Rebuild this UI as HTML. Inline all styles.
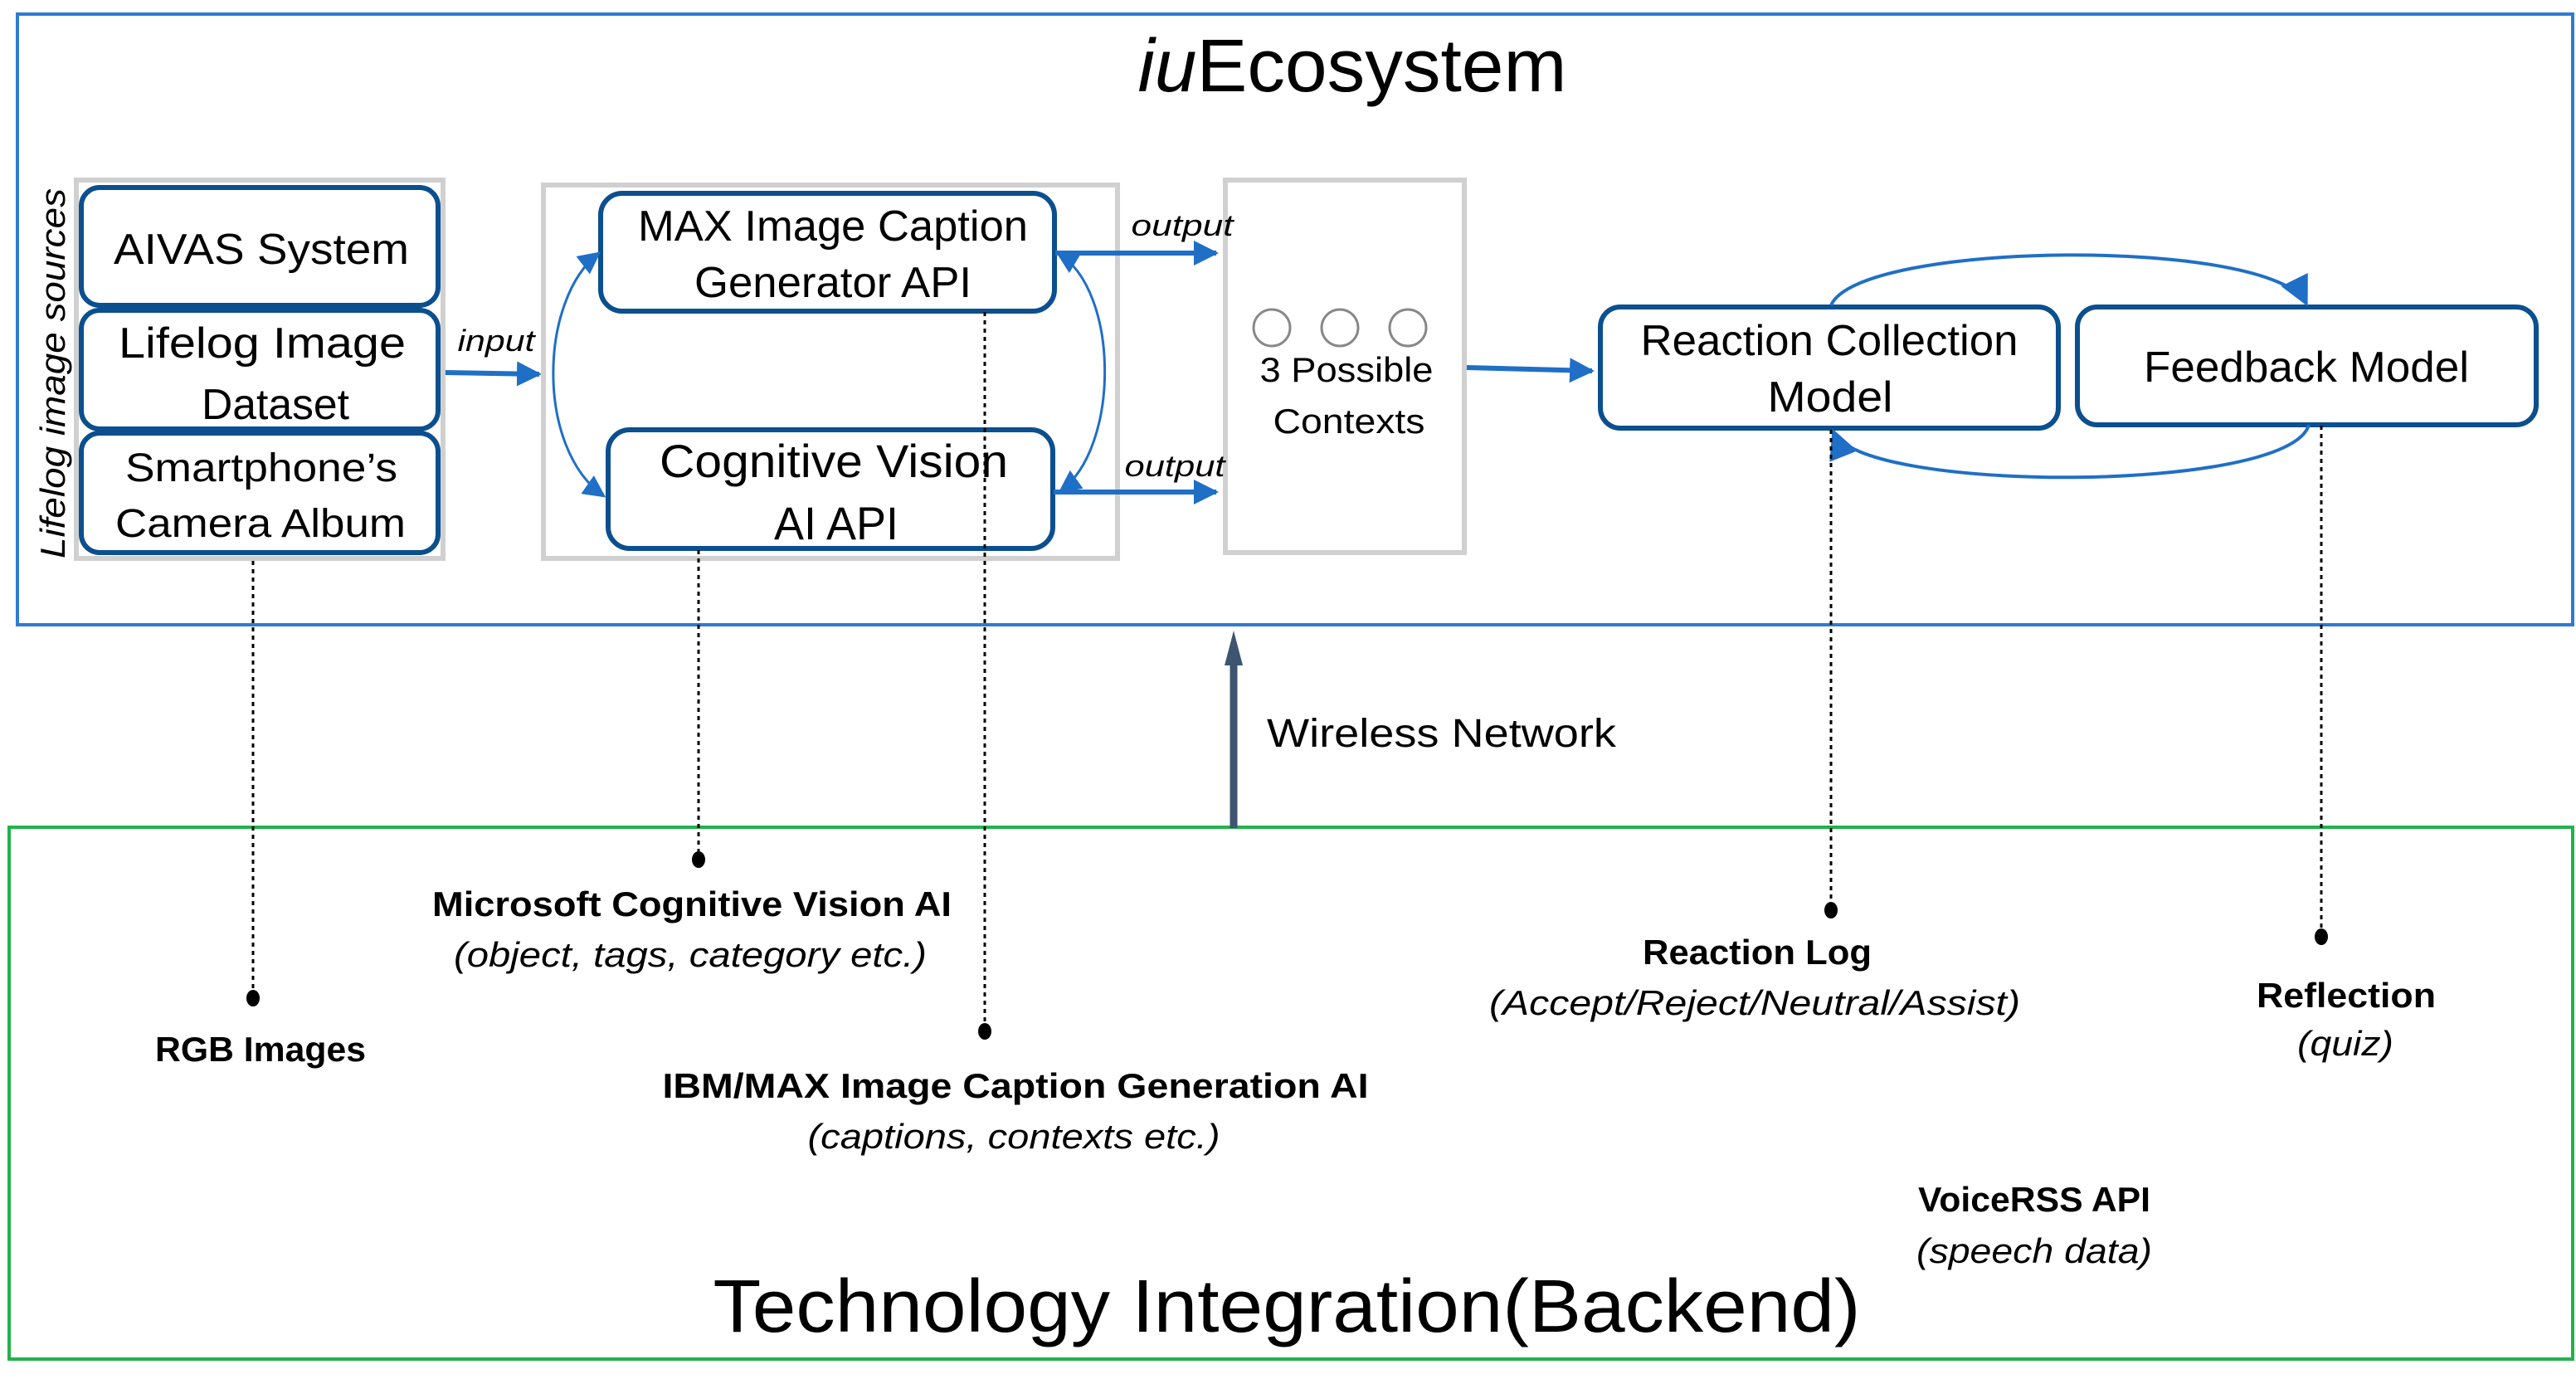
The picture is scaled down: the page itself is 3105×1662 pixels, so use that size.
<!DOCTYPE html>
<html><head><meta charset="utf-8"><style>
html,body{margin:0;padding:0;background:#fff;}
svg{display:block;}
text{font-family:"Liberation Sans",sans-serif;fill:#000;}
</style></head><body>
<svg width="3105" height="1662" viewBox="0 0 3105 1662" xmlns="http://www.w3.org/2000/svg">
<defs>
<marker id="ah" viewBox="0 0 10 10" refX="9" refY="5" markerWidth="5" markerHeight="5" orient="auto-start-reverse" markerUnits="strokeWidth"><path d="M0,0 L10,5 L0,10 z" fill="#1f6fc6"/></marker>
<marker id="ahs" viewBox="0 0 10 10" refX="9" refY="5" markerWidth="9" markerHeight="9" orient="auto-start-reverse" markerUnits="strokeWidth"><path d="M0,0 L10,5 L0,10 z" fill="#1f6fc6"/></marker>
</defs>
<rect x="21" y="17" width="3080" height="736" fill="none" stroke="#2f7bd3" stroke-width="4"/>
<rect x="11" y="997" width="3090" height="641" fill="none" stroke="#22b14c" stroke-width="4"/>

<text x="1630" y="110" font-size="90" text-anchor="middle" textLength="517" lengthAdjust="spacingAndGlyphs"><tspan font-style="italic">iu</tspan>Ecosystem</text>

<text transform="translate(78,673) rotate(-90)" font-size="42" font-style="italic" textLength="446" lengthAdjust="spacingAndGlyphs">Lifelog image sources</text>

<rect x="92" y="217" width="442" height="456" fill="none" stroke="#d0d0d0" stroke-width="6"/>
<rect x="98" y="226" width="430" height="142" rx="22" fill="#fff" stroke="#0b4f8f" stroke-width="6"/>
<rect x="98" y="374" width="430" height="143" rx="22" fill="#fff" stroke="#0b4f8f" stroke-width="6"/>
<rect x="98" y="522" width="430" height="144" rx="22" fill="#fff" stroke="#0b4f8f" stroke-width="6"/>
<text x="315" y="318" font-size="52" text-anchor="middle" textLength="356" lengthAdjust="spacingAndGlyphs">AIVAS System</text>
<text x="316" y="431" font-size="52" text-anchor="middle" textLength="346" lengthAdjust="spacingAndGlyphs">Lifelog Image</text>
<text x="332" y="505" font-size="52" text-anchor="middle" textLength="178" lengthAdjust="spacingAndGlyphs">Dataset</text>
<text x="315" y="580" font-size="48" text-anchor="middle" textLength="328" lengthAdjust="spacingAndGlyphs">Smartphone’s</text>
<text x="314" y="647" font-size="48" text-anchor="middle" textLength="350" lengthAdjust="spacingAndGlyphs">Camera Album</text>

<line x1="537" y1="449" x2="650" y2="451" stroke="#1f6fc6" stroke-width="6" marker-end="url(#ah)"/>
<text x="598" y="423" font-size="36" font-style="italic" text-anchor="middle" textLength="93" lengthAdjust="spacingAndGlyphs">input</text>

<rect x="655" y="223" width="692" height="450" fill="none" stroke="#d0d0d0" stroke-width="6"/>
<rect x="724" y="233" width="547" height="142" rx="26" fill="#fff" stroke="#0b4f8f" stroke-width="6"/>
<rect x="733" y="518" width="536" height="143" rx="26" fill="#fff" stroke="#0b4f8f" stroke-width="6"/>
<text x="1004" y="290" font-size="52" text-anchor="middle" textLength="470" lengthAdjust="spacingAndGlyphs">MAX Image Caption</text>
<text x="1004" y="358" font-size="52" text-anchor="middle" textLength="334" lengthAdjust="spacingAndGlyphs">Generator API</text>
<text x="1005" y="575" font-size="56" text-anchor="middle" textLength="420" lengthAdjust="spacingAndGlyphs">Cognitive Vision</text>
<text x="1008" y="650" font-size="56" text-anchor="middle" textLength="150" lengthAdjust="spacingAndGlyphs">AI API</text>
<path d="M722,305 C 650,360 645,540 728,598" fill="none" stroke="#1f6fc6" stroke-width="3" marker-start="url(#ahs)" marker-end="url(#ahs)"/>
<path d="M1275,305 C 1350,350 1350,540 1278,592" fill="none" stroke="#1f6fc6" stroke-width="3" marker-start="url(#ahs)" marker-end="url(#ahs)"/>

<rect x="1477" y="217" width="288" height="449" fill="#fff" stroke="#d0d0d0" stroke-width="6"/>
<line x1="1272" y1="305" x2="1466" y2="305" stroke="#1f6fc6" stroke-width="6" marker-end="url(#ah)"/>
<line x1="1270" y1="593" x2="1466" y2="593" stroke="#1f6fc6" stroke-width="6" marker-end="url(#ah)"/>
<text x="1425" y="284" font-size="36" font-style="italic" text-anchor="middle" textLength="123" lengthAdjust="spacingAndGlyphs">output</text>
<text x="1416" y="574" font-size="36" font-style="italic" text-anchor="middle" textLength="121" lengthAdjust="spacingAndGlyphs">output</text>
<circle cx="1533" cy="395" r="22" fill="none" stroke="#888" stroke-width="3"/>
<circle cx="1615" cy="395" r="22" fill="none" stroke="#888" stroke-width="3"/>
<circle cx="1697" cy="395" r="22" fill="none" stroke="#888" stroke-width="3"/>
<text x="1623" y="460" font-size="42" text-anchor="middle" textLength="209" lengthAdjust="spacingAndGlyphs">3 Possible</text>
<text x="1626" y="522" font-size="42" text-anchor="middle" textLength="183" lengthAdjust="spacingAndGlyphs">Contexts</text>
<line x1="1768" y1="443" x2="1919" y2="447" stroke="#1f6fc6" stroke-width="6" marker-end="url(#ah)"/>

<rect x="1929" y="370" width="552" height="146" rx="24" fill="#fff" stroke="#0b4f8f" stroke-width="6"/>
<rect x="2504" y="370" width="553" height="142" rx="24" fill="#fff" stroke="#0b4f8f" stroke-width="6"/>
<text x="2205" y="428" font-size="52" text-anchor="middle" textLength="455" lengthAdjust="spacingAndGlyphs">Reaction Collection</text>
<text x="2206" y="496" font-size="52" text-anchor="middle" textLength="151" lengthAdjust="spacingAndGlyphs">Model</text>
<text x="2780" y="460" font-size="52" text-anchor="middle" textLength="392" lengthAdjust="spacingAndGlyphs">Feedback Model</text>
<path d="M2207,368 C 2240,290 2740,285 2780,366" fill="none" stroke="#1f6fc6" stroke-width="4" marker-end="url(#ahs)"/>
<path d="M2783,512 C 2760,595 2240,595 2210,520" fill="none" stroke="#1f6fc6" stroke-width="4" marker-end="url(#ahs)"/>

<g stroke="#000" stroke-width="3" stroke-dasharray="5 5" fill="none">
<line x1="305" y1="676" x2="305" y2="1203"/>
<line x1="842" y1="663" x2="842" y2="1036"/>
<line x1="1187" y1="376" x2="1187" y2="1243"/>
<line x1="2207" y1="518" x2="2207" y2="1097"/>
<line x1="2798" y1="513" x2="2798" y2="1129"/>
</g>
<g fill="#000">
<ellipse cx="305" cy="1203" rx="8" ry="10"/>
<ellipse cx="842" cy="1036" rx="8" ry="10"/>
<ellipse cx="1187" cy="1243" rx="8" ry="10"/>
<ellipse cx="2207" cy="1097" rx="8" ry="10"/>
<ellipse cx="2798" cy="1129" rx="8" ry="10"/>
</g>

<line x1="1487" y1="998" x2="1487" y2="800" stroke="#3d5570" stroke-width="9"/>
<path d="M1476,802 L1487,760 L1498,802 z" fill="#3d5570"/>
<text x="1527" y="900" font-size="48" textLength="421" lengthAdjust="spacingAndGlyphs">Wireless Network</text>

<g font-size="42">
<text x="314" y="1279" font-weight="bold" text-anchor="middle" textLength="254" lengthAdjust="spacingAndGlyphs">RGB Images</text>
<text x="834" y="1104" font-weight="bold" text-anchor="middle" textLength="626" lengthAdjust="spacingAndGlyphs">Microsoft Cognitive Vision AI</text>
<text x="832" y="1165" font-style="italic" text-anchor="middle" textLength="570" lengthAdjust="spacingAndGlyphs">(object, tags, category etc.)</text>
<text x="1224" y="1323" font-weight="bold" text-anchor="middle" textLength="851" lengthAdjust="spacingAndGlyphs">IBM/MAX Image Caption Generation AI</text>
<text x="1222" y="1384" font-style="italic" text-anchor="middle" textLength="497" lengthAdjust="spacingAndGlyphs">(captions, contexts etc.)</text>
<text x="2118" y="1162" font-weight="bold" text-anchor="middle" textLength="276" lengthAdjust="spacingAndGlyphs">Reaction Log</text>
<text x="2115" y="1223" font-style="italic" text-anchor="middle" textLength="640" lengthAdjust="spacingAndGlyphs">(Accept/Reject/Neutral/Assist)</text>
<text x="2828" y="1214" font-weight="bold" text-anchor="middle" textLength="216" lengthAdjust="spacingAndGlyphs">Reflection</text>
<text x="2827" y="1272" font-style="italic" text-anchor="middle" textLength="116" lengthAdjust="spacingAndGlyphs">(quiz)</text>
<text x="2452" y="1460" font-weight="bold" text-anchor="middle" textLength="280" lengthAdjust="spacingAndGlyphs">VoiceRSS API</text>
<text x="2452" y="1522" font-style="italic" text-anchor="middle" textLength="284" lengthAdjust="spacingAndGlyphs">(speech data)</text>
</g>
<text x="1551" y="1605" font-size="90" text-anchor="middle" textLength="1383" lengthAdjust="spacingAndGlyphs">Technology Integration(Backend)</text>
</svg>
</body></html>
